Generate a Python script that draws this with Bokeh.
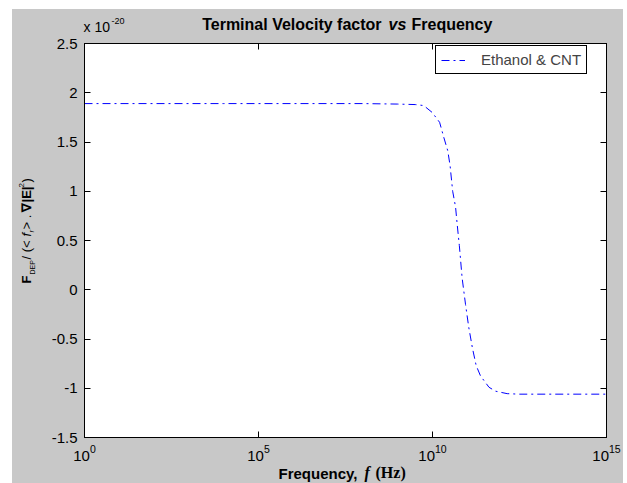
import math
from bokeh.plotting import figure
from bokeh.layouts import column, row
from bokeh.core.properties import value
from bokeh.models import (Range1d, FixedTicker, CustomJSTickFormatter, LinearAxis, LogAxis,
                          Legend, LegendItem, ColumnDataSource)
from bokeh.embed import file_html
from bokeh.resources import INLINE

# ---- data ----
freq_hz = [1e0, 1e2, 1e4, 1e6, 1e8, 1e9, 3.2e9, 5.6e9, 9.8e9, 1.6e10, 2.1e10, 2.75e10,
           3.2e10, 3.8e10, 4.6e10, 5.1e10, 5.9e10, 7.1e10, 8.9e10, 1.1e11, 1.4e11,
           1.8e11, 2.4e11, 4.2e11, 6.5e11, 1.4e12, 3.2e12, 1e13, 1e14, 1e15]
factor = [1.89, 1.89, 1.89, 1.89, 1.89, 1.885, 1.88, 1.87, 1.80, 1.70, 1.55, 1.41,
          1.26, 1.00, 0.84, 0.67, 0.45, 0.12, -0.15, -0.38, -0.59,
          -0.77, -0.875, -0.99, -1.03, -1.055, -1.06, -1.06, -1.06, -1.06]   # x 1e-20
series_name = "Ethanol & CNT"
x_ticks = [1e0, 1e5, 1e10, 1e15]
y_ticks = [-1.5, -1.0, -0.5, 0.0, 0.5, 1.0, 1.5, 2.0, 2.5]

GREY = "#c8c8c8"
FONT = "Liberation Sans"
SERIF = "Liberation Serif"

# page geometry (pixels): grey area from x=12..623, y=9..483
X0, X1, Y0, Y1 = 12, 623, 9, 483
TITLE_H = 26          # y 9..35
YLAB_W = 28           # x 12..40
XLAB_H = 20           # y 463..483
MAIN_W = (X1 - X0) - YLAB_W
MAIN_H = (Y1 - Y0) - TITLE_H - XLAB_H


def strip(w, h, xr, yr):
    s = figure(frame_width=w, frame_height=h, x_range=Range1d(*xr), y_range=Range1d(*yr),
               output_backend="svg", toolbar_location=None,
               x_axis_location=None, y_axis_location=None,
               min_border=0, border_fill_color=GREY, background_fill_color=GREY,
               outline_line_color=None)
    s.grid.visible = False
    return s


def txt(fig, s, x, y, size=13, style="normal", font=FONT, angle=0.0, align="left"):
    # (x, y) = baseline position in page pixels; text is anchored at its middle
    off = 0.35 * size
    if angle:
        x = x - off
    else:
        y = y - off
    fig.text(x=[x], y=[y], text=[s], text_font=value(font), text_font_size=value(f"{size}px"),
             text_font_style=style, text_color="black", angle=angle,
             text_align=align, text_baseline="middle")


# ---- title strip (coordinates = page pixels) ----
t = strip(X1 - X0, TITLE_H, (X0, X1), (Y0 + TITLE_H, Y0))
txt(t, "Terminal Velocity factor", 381, 30, 16, "bold", align="right")
txt(t, "vs", 397, 30, 16, "bold italic", align="center")
txt(t, "Frequency", 411, 30, 16, "bold")
txt(t, "x 10", 83, 31, 14)
txt(t, "-20", 111, 24, 9)

# ---- y label strip ----
yl = strip(YLAB_W, MAIN_H, (X0, X0 + YLAB_W), (Y0 + TITLE_H + MAIN_H, Y0 + TITLE_H))
A = math.pi / 2
D = 8
txt(yl, "F", 31, 283 - D, 13, "bold", angle=A)
txt(yl, "DEP", 34, 274 - D, 7, angle=A)
txt(yl, " / (<", 31, 259 - D, 13, angle=A)
txt(yl, "f", 31, 236 - D, 13, "italic", angle=A)
txt(yl, "r", 34, 232 - D, 8, "italic", angle=A)
txt(yl, " > .", 31, 229 - D, 13, angle=A)
txt(yl, "\u2207|E|", 31, 211 - D, 13, "bold", angle=A)
txt(yl, "2", 24, 187 - D, 8, angle=A)
txt(yl, ")", 31, 182 - D, 13, angle=A)

# ---- x label strip ----
xl = strip(X1 - X0, XLAB_H, (X0, X1), (Y1, Y1 - XLAB_H))
txt(xl, "Frequency,", 278, 478, 15, "bold")
txt(xl, "f", 364, 478, 16, "bold italic", SERIF)
txt(xl, "(Hz)", 375, 478, 16, "bold", SERIF)

# ---- main plot ----
p = figure(x_axis_type="log", output_backend="svg", toolbar_location=None,
           frame_width=522, frame_height=394,
           min_border_left=44, min_border_right=MAIN_W - 44 - 522,
           min_border_top=8, min_border_bottom=MAIN_H - 8 - 394,
           x_range=Range1d(1e0, 1e15), y_range=Range1d(-1.5, 2.5),
           border_fill_color=GREY, background_fill_color="white",
           outline_line_color="black", outline_line_width=1)
p.grid.visible = False

src = ColumnDataSource(dict(x=freq_hz, y=factor))
r = p.line("x", "y", source=src, line_color="#0000ff", line_width=1, line_dash="8 4 2 4")

for ax in (p.xaxis[0], p.yaxis[0]):
    ax.major_tick_in = 6
    ax.major_tick_out = 0
    ax.minor_tick_in = 0
    ax.minor_tick_out = 0
    ax.axis_line_color = "black"
    ax.major_tick_line_color = "black"
    ax.major_label_text_font = FONT
    ax.major_label_text_font_size = "15px"
    ax.major_label_text_color = "black"
p.xaxis[0].ticker = FixedTicker(ticks=x_ticks)
p.yaxis[0].ticker = FixedTicker(ticks=y_ticks)
p.yaxis[0].formatter = CustomJSTickFormatter(code="return tick.toString();")
p.yaxis[0].major_label_standoff = 7
p.xaxis[0].major_label_standoff = 7

top = LogAxis(ticker=FixedTicker(ticks=x_ticks), major_label_text_font_size="2px",
              major_label_text_alpha=0.0,
              major_tick_in=6, major_tick_out=0, minor_tick_in=0, minor_tick_out=0,
              major_label_standoff=0, axis_label_standoff=0)
right = LinearAxis(ticker=FixedTicker(ticks=y_ticks), major_label_text_font_size="2px",
                   major_label_text_alpha=0.0,
                   major_tick_in=6, major_tick_out=0, minor_tick_in=0, minor_tick_out=0,
                   major_label_standoff=0, axis_label_standoff=0)
p.add_layout(top, "above")
p.add_layout(right, "right")

# legend: bottom-left corner given in screen px relative to the frame's bottom-left
legend = Legend(items=[LegendItem(label=series_name, renderers=[r])],
                location=(351, 363), margin=0, padding=5, glyph_width=24, glyph_height=12,
                label_height=12, label_standoff=16, label_text_font=FONT,
                label_text_font_size="15px", border_line_color="black", border_line_width=1,
                border_line_alpha=1.0, background_fill_color="white", background_fill_alpha=1.0)
p.add_layout(legend)

mid = row(yl, p, spacing=0, styles={"background-color": GREY})
layout = column(t, mid, xl, spacing=0, styles={"background-color": GREY})
layout.margin = (Y0, 0, 0, X0)

open("out.html", "w").write(file_html(layout, INLINE))
